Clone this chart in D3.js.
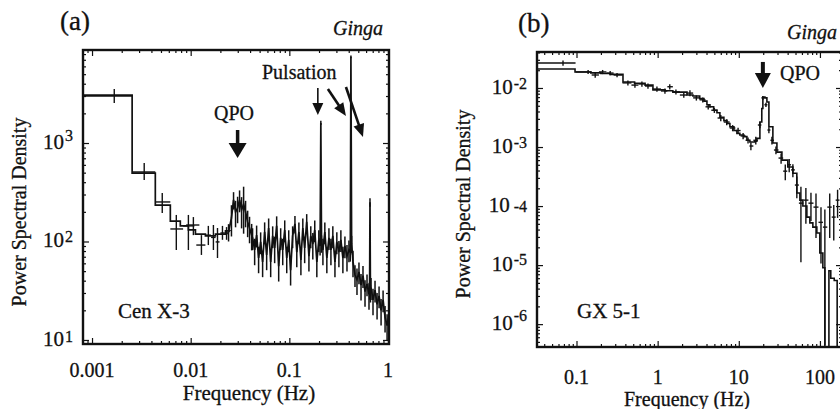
<!DOCTYPE html>
<html>
<head>
<meta charset="utf-8">
<script src="https://cdn.jsdelivr.net/npm/d3@7"></script>
<style>
  body { margin: 0; background: #fff; }
  svg { display: block; font-family: "Liberation Serif", "Times New Roman", serif; }
  text { stroke: #111; stroke-width: 0.3px; }
</style>
</head>
<body>
<script>
// ---------- panel (a): Cen X-3 ----------
var xDomainA = [0.00081, 1.024], yDomainA = [9.1, 8800];
var xTicksA = [0.001, 0.01, 0.1, 1], xTickLabelsA = ["0.001", "0.01", "0.1", "1"];
var yTicksA = [10, 100, 1000], yExpA = ["1", "2", "3"];

// rebinned histogram: [lowEdge, highEdge, power]
var binsA = [
  [0.00081, 0.00255, 3070], [0.00255, 0.00438, 495], [0.00438, 0.00622, 234],
  [0.00622, 0.00785, 161], [0.00785, 0.00948, 144], [0.00948, 0.01117, 131],
  [0.01117, 0.0141, 119], [0.0141, 0.01783, 114], [0.01783, 0.02254, 119],
  [0.02254, 0.0247, 128]
];
// binned points: [f, fLo, fHi, p, pLo, pHi]
var crossesA = [
  [0.00168, 0.00081, 0.00255, 3000, 2550, 3530],
  [0.00338, 0.00255, 0.00438, 508, 421, 627],
  [0.00515, 0.00438, 0.00622, 252, 195, 310],
  [0.00715, 0.00622, 0.00838, 134, 82, 186],
  [0.00948, 0.00838, 0.0109, 144, 82, 186],
  [0.01065, 0.0090, 0.01225, 147, 116, 177],
  [0.01285, 0.0114, 0.0141, 92, 73, 116],
  [0.0151, 0.0141, 0.0160, 116, 92, 144],
  [0.0170, 0.0161, 0.0179, 110, 82, 147],
  [0.0187, 0.0179, 0.0196, 99, 68, 137],
  [0.0210, 0.0200, 0.0221, 122, 104, 144],
  [0.0231, 0.0221, 0.0241, 122, 104, 140]
];
// unbinned points: [f, p, relative error]
var denseA = [
  [0.0242, 125, .2], [0.0259, 173, .35], [0.0272, 264, .2], [0.0285, 199, .3],
  [0.0299, 219, .3], [0.0313, 264, .25], [0.0328, 209, .35], [0.0344, 240, .5],
  [0.036, 199, .3], [0.0378, 158, .3], [0.0395, 137, .3], [0.0415, 116, .3],
  [0.0424, 109, .25], [0.0445, 82, .3], [0.0466, 116, .25], [0.0488, 68, .3],
  [0.0512, 99, .25], [0.0536, 62, .3], [0.0562, 125, .25], [0.0589, 73, .3],
  [0.0617, 137, .25], [0.0647, 62, .3], [0.0678, 114, .25], [0.0710, 86, .3],
  [0.0744, 144, .25], [0.0780, 56, .3], [0.0817, 109, .25], [0.0857, 82, .3],
  [0.0898, 131, .25], [0.0941, 68, .3], [0.0986, 104, .25], [0.103, 51, .3],
  [0.108, 114, .25], [0.114, 151, .2], [0.119, 78, .3], [0.125, 125, .25],
  [0.131, 65, .3], [0.137, 137, .25], [0.143, 86, .3], [0.150, 158, .2],
  [0.158, 71, .3], [0.165, 114, .25], [0.173, 94, .3], [0.181, 131, .25],
  [0.190, 62, .3], [0.199, 104, .25], [0.205, 90, .2], [0.2086, 1600, .05],
  [0.212, 96, .2], [0.219, 82, .3], [0.229, 125, .25], [0.240, 68, .3],
  [0.252, 109, .25], [0.264, 82, .3], [0.276, 114, .25], [0.290, 62, .3],
  [0.303, 99, .25], [0.318, 78, .3], [0.333, 104, .25], [0.349, 68, .3],
  [0.366, 90, .25], [0.384, 71, .3], [0.402, 82, .25], [0.415, 78, .2],
  [0.421, 7500, .03], [0.428, 95, .2], [0.442, 62, .3], [0.463, 46, .25],
  [0.485, 41, .3], [0.508, 49, .25], [0.533, 36, .3], [0.558, 45, .25],
  [0.585, 31, .3], [0.613, 37, .25], [0.642, 29, .3], [0.651, 32, .2],
  [0.657, 250, .1], [0.664, 30, .2], [0.673, 34, .25], [0.705, 25.5, .3],
  [0.739, 32, .25], [0.775, 23, .3], [0.812, 28, .25], [0.851, 20, .3],
  [0.892, 25.5, .25], [0.934, 17, .3], [0.979, 14, .3], [1.02, 18, .25]
];
// annotation arrows: [fTail, pTail, fTip, pTip]
var qpoArrowA = [0.0299, 1355, 0.0299, 705];
var pulsationArrows = [
  [0.1945, 3614, 0.1945, 1923],
  [0.246, 3532, 0.375, 1880],
  [0.375, 3706, 0.558, 1151]
];

// ---------- panel (b): GX 5-1 ----------
var xDomainB = [0.0326, 187], yDomainB = [4.1e-7, 0.0407];
var xTicksB = [0.1, 1, 10, 100], xTickLabelsB = ["0.1", "1", "10", "100"];
var yTicksB = [1e-2, 1e-3, 1e-4, 1e-5, 1e-6], yExpB = ["-2", "-3", "-4", "-5", "-6"];

// histogram (step-after): [f, p]
var lineB = [
  [0.0326, 0.0210], [0.0959, 0.0187], [0.15, 0.0180], [0.2, 0.0176], [0.26, 0.0170],
  [0.374, 0.0126], [0.52, 0.0120], [0.70, 0.0112], [0.875, 0.0093], [1.23, 0.0090],
  [1.54, 0.0085], [2.3, 0.0076], [2.72, 0.0073], [3.3, 0.0066], [3.72, 0.0060],
  [4.05, 0.0052], [4.41, 0.0048], [4.9, 0.0042], [5.38, 0.0038], [5.85, 0.0032],
  [6.55, 0.0028], [7.14, 0.0025], [7.77, 0.0022], [8.71, 0.0019], [9.48, 0.0017],
  [10.3, 0.0016], [11.56, 0.0015], [12.59, 0.0013], [13.7, 0.00122], [15.8, 0.00125],
  [16.7, 0.0014], [18.2, 0.00265], [19.2, 0.0045], [19.8, 0.0070], [21.0, 0.0068],
  [22.2, 0.0058], [23.5, 0.0022], [26.3, 0.00117], [29.5, 0.00082], [34.0, 0.0006],
  [40.2, 0.00046], [46.4, 0.00036], [51.9, 0.000166], [56.6, 0.000126], [61.6, 0.0001],
  [69.0, 0.000065], [75.1, 0.000052], [81.8, 0.000044], [91.6, 0.000035], [99.7, 0.000016],
  [108.6, 0.000009], [115, 1e-7], [129, 8e-6], [136, 6e-6], [150, 5.5e-6],
  [163, 1e-7], [187, 1e-7]
];
// binned points: [f, p, relative error]
var crossesB = [
  [0.0682, 0.0265, 0.1], [0.139, 0.0187, 0.08], [0.17, 0.0166, 0.1], [0.21, 0.0187, 0.08],
  [0.26, 0.0179, 0.08], [0.316, 0.0166, 0.08], [0.43, 0.0122, 0.1], [0.525, 0.0112, 0.1],
  [0.64, 0.0117, 0.1], [0.76, 0.0108, 0.1], [0.98, 0.0096, 0.1], [1.23, 0.0089, 0.1],
  [1.41, 0.0105, 0.1], [1.68, 0.0086, 0.1], [2.1, 0.0076, 0.1], [2.5, 0.0082, 0.12],
  [3.0, 0.0068, 0.1], [3.6, 0.0063, 0.1], [4.2, 0.0048, 0.1], [5.0, 0.0042, 0.1],
  [6.0, 0.0031, 0.12], [7.1, 0.00265, 0.12], [8.4, 0.0021, 0.12], [9.8, 0.0019, 0.12],
  [11.3, 0.00154, 0.12], [13.0, 0.0013, 0.12], [14.1, 0.00104, 0.15], [16.2, 0.0013, 0.15],
  [18.2, 0.00236, 0.12], [19.8, 0.0068, 0.08], [21.6, 0.0052, 0.08], [23.5, 0.00194, 0.12],
  [25.6, 0.0013, 0.15], [28.7, 0.00089, 0.15], [33.2, 0.00065, 0.2], [37.4, 0.00039, 0.3],
  [41.8, 0.0005, 0.25], [46.4, 0.00041, 0.25], [51.9, 0.000227, 0.4], [58.3, 0.000112, 0.9],
  [67.1, 0.000126, 0.6], [77.5, 0.000112, 0.5], [89.4, 0.000096, 0.7], [103, 0.000053, 0.8],
  [115, 0.000044, 0.99], [132, 0.000096, 0.7], [148, 0.000065, 0.6], [165, 0.000126, 0.5]
];
var qpoArrowB = [19.8, 0.0276, 19.8, 0.0100];

var ink = "#111";
var svg = d3.select("body").append("svg").attr("width", 840).attr("height", 409);

function isMajor(t) { var l = Math.log10(t); return Math.abs(l - Math.round(l)) < 1e-6; }

function frame(g, x, y) {
  var xr = x.range(), yr = y.range();
  var xMaj = x.ticks().filter(isMajor), xMin = x.ticks().filter(function(t) { return !isMajor(t); });
  var yMaj = y.ticks().filter(isMajor), yMin = y.ticks().filter(function(t) { return !isMajor(t); });
  var sides = [
    [d3.axisBottom(x), "translate(0," + yr[0] + ")", xMaj, xMin],
    [d3.axisTop(x), "translate(0," + yr[1] + ")", xMaj, xMin],
    [d3.axisLeft(y), "translate(" + xr[0] + ",0)", yMaj, yMin],
    [d3.axisRight(y), "translate(" + xr[1] + ",0)", yMaj, yMin]
  ];
  sides.forEach(function(s) {
    [[s[2], 6], [s[3], 3]].forEach(function(t) {
      var ax = g.append("g").attr("transform", s[1])
        .call(s[0].tickValues(t[0]).tickSize(-t[1]).tickFormat(function() { return ""; }));
      ax.select(".domain").remove();
      ax.selectAll("line").attr("stroke", ink).attr("stroke-width", 1.2);
    });
  });
  g.append("rect").attr("x", xr[0]).attr("y", yr[1])
    .attr("width", xr[1] - xr[0]).attr("height", yr[0] - yr[1])
    .attr("fill", "none").attr("stroke", ink).attr("stroke-width", 2.4);
}

function tickLabels(g, x, y, xt, xl, xBase, yt, ye, raise) {
  xt.forEach(function(t, i) {
    g.append("text").attr("x", x(t)).attr("y", xBase).attr("text-anchor", "middle")
      .attr("font-size", 20).attr("fill", ink).text(xl[i]);
  });
  yt.forEach(function(t, i) {
    var tx = g.append("text").attr("x", x.range()[0] - 10).attr("y", y(t) + 6)
      .attr("text-anchor", "end").attr("font-size", 21).attr("fill", ink);
    tx.append("tspan").text("10");
    tx.append("tspan").attr("dx", ye[i] == "-4" ? 4 : 1).attr("dy", -raise[i]).attr("font-size", 16).text(ye[i]);
  });
}

function arrow(g, x, y, a, sw, hl, hw) {
  var x1 = x(a[0]), y1 = y(a[1]), x2 = x(a[2]), y2 = y(a[3]);
  var dx = x2 - x1, dy = y2 - y1, len = Math.sqrt(dx * dx + dy * dy);
  var ux = dx / len, uy = dy / len, bx = x2 - ux * hl, by = y2 - uy * hl;
  g.append("line").attr("x1", x1).attr("y1", y1).attr("x2", bx + ux).attr("y2", by + uy)
    .attr("stroke", ink).attr("stroke-width", sw);
  g.append("path").attr("fill", ink)
    .attr("d", "M" + x2 + "," + y2 + "L" + (bx - uy * hw / 2) + "," + (by + ux * hw / 2) +
      "L" + (bx + uy * hw / 2) + "," + (by - ux * hw / 2) + "Z");
}

function text(g, s, x, y, size, anchor, style) {
  return g.append("text").attr("x", x).attr("y", y).attr("font-size", size)
    .attr("text-anchor", anchor || "start").attr("font-style", style || "normal")
    .attr("fill", ink).text(s);
}

// ---------- draw panel (a) ----------
var xA = d3.scaleLog().domain(xDomainA).range([83, 389]);
var yA = d3.scaleLog().domain(yDomainA).range([344, 50]);
var gA = svg.append("g");
gA.append("clipPath").attr("id", "clipA").append("rect")
  .attr("x", 83).attr("y", 50).attr("width", 306).attr("height", 294);
var dA = gA.append("g").attr("clip-path", "url(#clipA)");

var stepPts = [];
binsA.forEach(function(b) { stepPts.push([b[0], b[2]], [b[1], b[2]]); });
var lineA = d3.line().x(function(d) { return xA(d[0]); }).y(function(d) { return yA(d[1]); });
dA.append("path").attr("d", lineA(stepPts.concat(denseA)))
  .attr("fill", "none").attr("stroke", ink).attr("stroke-width", 1.7);
crossesA.forEach(function(c) {
  dA.append("line").attr("x1", xA(c[1])).attr("x2", xA(c[2])).attr("y1", yA(c[3])).attr("y2", yA(c[3]))
    .attr("stroke", ink).attr("stroke-width", 1.4);
  dA.append("line").attr("x1", xA(c[0])).attr("x2", xA(c[0])).attr("y1", yA(c[4])).attr("y2", yA(c[5]))
    .attr("stroke", ink).attr("stroke-width", 1.4);
});
denseA.forEach(function(d) {
  dA.append("line").attr("x1", xA(d[0])).attr("x2", xA(d[0]))
    .attr("y1", yA(d[1] * (1 - d[2]))).attr("y2", yA(d[1] * (1 + d[2])))
    .attr("stroke", ink).attr("stroke-width", 1.5);
});
frame(gA, xA, yA);
tickLabels(gA, xA, yA, xTicksA, xTickLabelsA, 377, yTicksA, yExpA, [4, 5, 8]);
arrow(gA, xA, yA, qpoArrowA, 3.5, 15, 18);
arrow(gA, xA, yA, pulsationArrows[0], 1.6, 12, 11);
arrow(gA, xA, yA, pulsationArrows[1], 2.6, 13, 11);
arrow(gA, xA, yA, pulsationArrows[2], 2.6, 13, 11);
text(gA, "(a)", 60, 30, 27);
text(gA, "Ginga", 383, 35, 20, "end", "italic");
text(gA, "QPO", 234, 120, 20, "middle");
text(gA, "Pulsation", 262, 79, 20);
text(gA, "Cen X-3", 118, 318, 21);
text(gA, "Frequency (Hz)", 249, 400, 21, "middle");
text(gA, "Power Spectral Density", 0, 0, 20, "middle").attr("transform", "translate(26,212) rotate(-90)");

// ---------- draw panel (b) ----------
var xB = d3.scaleLog().domain(xDomainB).range([537, 842]);
var yB = d3.scaleLog().domain(yDomainB).range([347, 52]);
var gB = svg.append("g");
gB.append("clipPath").attr("id", "clipB").append("rect")
  .attr("x", 537).attr("y", 52).attr("width", 305).attr("height", 295);
var dB = gB.append("g").attr("clip-path", "url(#clipB)");
dB.append("path")
  .attr("d", d3.line().curve(d3.curveStepAfter)
    .x(function(d) { return xB(d[0]); }).y(function(d) { return yB(d[1]); })(lineB))
  .attr("fill", "none").attr("stroke", ink).attr("stroke-width", 1.6);
crossesB.forEach(function(c, i) {
  var lo = i == 0 ? xDomainB[0] : Math.sqrt(c[0] * crossesB[i - 1][0]);
  var hi = i == crossesB.length - 1 ? c[0] * c[0] / lo : Math.sqrt(c[0] * crossesB[i + 1][0]);
  dB.append("line").attr("x1", xB(lo)).attr("x2", xB(hi)).attr("y1", yB(c[1])).attr("y2", yB(c[1]))
    .attr("stroke", ink).attr("stroke-width", 1.4);
  dB.append("line").attr("x1", xB(c[0])).attr("x2", xB(c[0]))
    .attr("y1", yB(c[1] * (1 - c[2]))).attr("y2", yB(c[1] * (1 + c[2])))
    .attr("stroke", ink).attr("stroke-width", 1.4);
});
frame(gB, xB, yB);
tickLabels(gB, xB, yB, xTicksB, xTickLabelsB, 384, yTicksB, yExpB, [5, 5, 0, 6, 9]);
arrow(gB, xB, yB, qpoArrowB, 4, 15, 16);
text(gB, "(b)", 518, 32, 27);
text(gB, "Ginga", 787, 39, 20, "start", "italic");
text(gB, "QPO", 780, 80, 20);
text(gB, "GX 5-1", 577, 318, 21);
text(gB, "Frequency (Hz)", 687, 406, 20, "middle");
text(gB, "Power Spectral Density", 0, 0, 20, "middle").attr("transform", "translate(470,204) rotate(-90)");
</script>
</body>
</html>
